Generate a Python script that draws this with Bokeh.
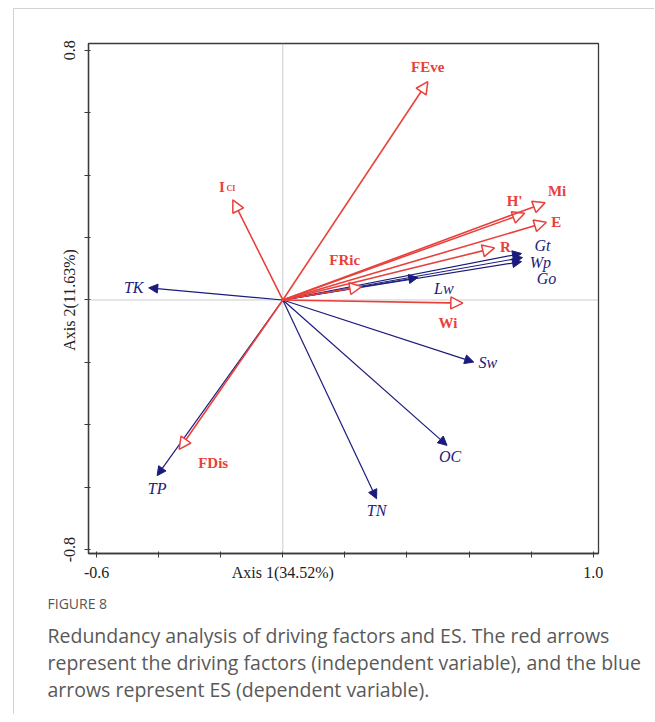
from bokeh.plotting import figure
from bokeh.models import Range1d, Span, Arrow, NormalHead, ColumnDataSource, FixedTicker, Spacer, Title
from bokeh.layouts import column, row
from bokeh.embed import file_html
from bokeh.resources import INLINE
from bokeh.core.properties import value

# ---------------- data ----------------
driver_names = ["FEve", "ICI", "H'", "Mi", "E", "R", "FRic", "Wi", "FDis"]
driver_x = [0.467, -0.161, 0.779, 0.845, 0.849, 0.682, 0.254, 0.580, -0.334]
driver_y = [0.700, 0.321, 0.278, 0.312, 0.249, 0.167, 0.043, -0.010, -0.479]

es_names = ["TK", "TP", "TN", "OC", "Sw", "Lw", "Gt", "Wp", "Go"]
es_x = [-0.432, -0.405, 0.302, 0.529, 0.615, 0.435, 0.769, 0.772, 0.769]
es_y = [0.039, -0.563, -0.637, -0.466, -0.199, 0.072, 0.149, 0.136, 0.123]

x_ticks = [-0.6, -0.4, -0.2, 0.0, 0.2, 0.4, 0.6, 0.8, 1.0]
x_tick_labels = ["-0.6", "", "", "Axis 1(34.52%)", "", "", "", "", "1.0"]
y_ticks = [-0.8, -0.6, -0.4, -0.2, 0.0, 0.2, 0.4, 0.6, 0.8]
y_tick_labels = ["-0.8", "", "", "", "Axis 2(11.63%)", "", "", "", "0.8"]

caption_title = "FIGURE 8"
caption_lines = [
    "Redundancy analysis of driving factors and ES. The red arrows",
    "represent the driving factors (independent variable), and the blue",
    "arrows represent ES (dependent variable).",
]

# ---------------- label offsets (screen px) ----------------
driver_dx = [0, -11, -10, 12, 10, 11, -17, -15, 34]
driver_dy = [-15, -13, -12, -12, 0, -1, -27, 20, 14]
es_dx = [-15, 0, 0, 3, 14, 26, 21, 18, 25]
es_dy = [0, 13, 12, 11, 0, 11, -8, 5, 17]

RED = "#E8413C"
BLUE = "#1B1B7D"
FRAME = "#3a3a3a"
SERIF = "Liberation Serif"

p = figure(width=641, height=706,
           x_range=Range1d(-0.626, 1.017), y_range=Range1d(-0.8125, 0.822),
           output_backend="svg", toolbar_location=None,
           min_border_left=74, min_border_right=57, min_border_top=34, min_border_bottom=162)
p.grid.visible = False
p.outline_line_color = FRAME
p.outline_line_width = 1.3
p.background_fill_color = "white"
p.border_fill_color = "white"
p.styles = {"border-top": "1px solid #d3d3d3", "border-left": "1px solid #d3d3d3"}

p.add_layout(Span(location=0, dimension="height", line_color="#9a9a9a", line_dash="1 1", line_width=1))
p.add_layout(Span(location=0, dimension="width", line_color="#9a9a9a", line_dash="1 1", line_width=1))

for ax, ticks, labels in ((p.xaxis[0], x_ticks, x_tick_labels), (p.yaxis[0], y_ticks, y_tick_labels)):
    ax.ticker = FixedTicker(ticks=ticks)
    ax.major_label_overrides = dict(zip(ticks, labels))
    ax.minor_tick_line_color = None
    ax.major_tick_out = 4
    ax.major_tick_in = 2
    ax.major_tick_line_color = FRAME
    ax.axis_line_color = FRAME
    ax.axis_line_width = 1.3
    ax.major_label_text_font = SERIF
    ax.major_label_text_font_size = "16px"
    ax.major_label_text_color = "#222222"
    ax.major_label_standoff = 6
p.yaxis[0].major_label_orientation = "vertical"

# ES (blue) arrows
n_es = len(es_x)
src_es = ColumnDataSource(dict(x0=[0.0] * n_es, y0=[0.0] * n_es, x1=es_x, y1=es_y,
                               name=es_names, dx=es_dx, dy=es_dy))
p.add_layout(Arrow(end=NormalHead(size=9, fill_color=BLUE, line_color=BLUE, line_width=1),
                   x_start="x0", y_start="y0", x_end="x1", y_end="y1",
                   source=src_es, line_color=BLUE, line_width=1.2))

# driving factors (red) arrows
n_dr = len(driver_x)
main_text = ["I" if n == "ICI" else n for n in driver_names]
src_dr = ColumnDataSource(dict(x0=[0.0] * n_dr, y0=[0.0] * n_dr, x1=driver_x, y1=driver_y,
                               name=main_text, dx=driver_dx, dy=driver_dy))
p.add_layout(Arrow(end=NormalHead(size=12, fill_color="white", line_color=RED, line_width=1.5),
                   x_start="x0", y_start="y0", x_end="x1", y_end="y1",
                   source=src_dr, line_color=RED, line_width=1.6))

p.text(x="x1", y="y1", text="name", x_offset="dx", y_offset="dy", source=src_es,
       text_font=value(SERIF), text_font_style="italic", text_font_size="16px",
       text_color=BLUE, text_align="center", text_baseline="middle")
p.text(x="x1", y="y1", text="name", x_offset="dx", y_offset="dy", source=src_dr,
       text_font=value(SERIF), text_font_style="bold", text_font_size="15px",
       text_color=RED, text_align="center", text_baseline="middle")

# subscript of I_CI
ici = driver_names.index("ICI")
p.text(x=[driver_x[ici]], y=[driver_y[ici]], text=["CI"], x_offset=-2, y_offset=-11,
       text_font=value(SERIF), text_font_style="bold", text_font_size="8px",
       text_color=RED, text_align="center", text_baseline="middle")

# caption as titles stacked below the x axis
p.add_layout(Title(text=caption_title, align="left", offset=-41, standoff=16,
                   text_font="Open Sans", text_font_size="14px", text_font_style="normal",
                   text_color="#555555"), "below")
for i, line in enumerate(caption_lines):
    p.add_layout(Title(text=line, align="left", offset=-41, standoff=-2,
                       text_font="Open Sans", text_font_size="19.5px", text_font_style="normal",
                       text_color="#595959"), "below")

layout = column(Spacer(height=8), row(Spacer(width=13), p, spacing=0), spacing=0)

open("out.html", "w").write(file_html(layout, INLINE))
